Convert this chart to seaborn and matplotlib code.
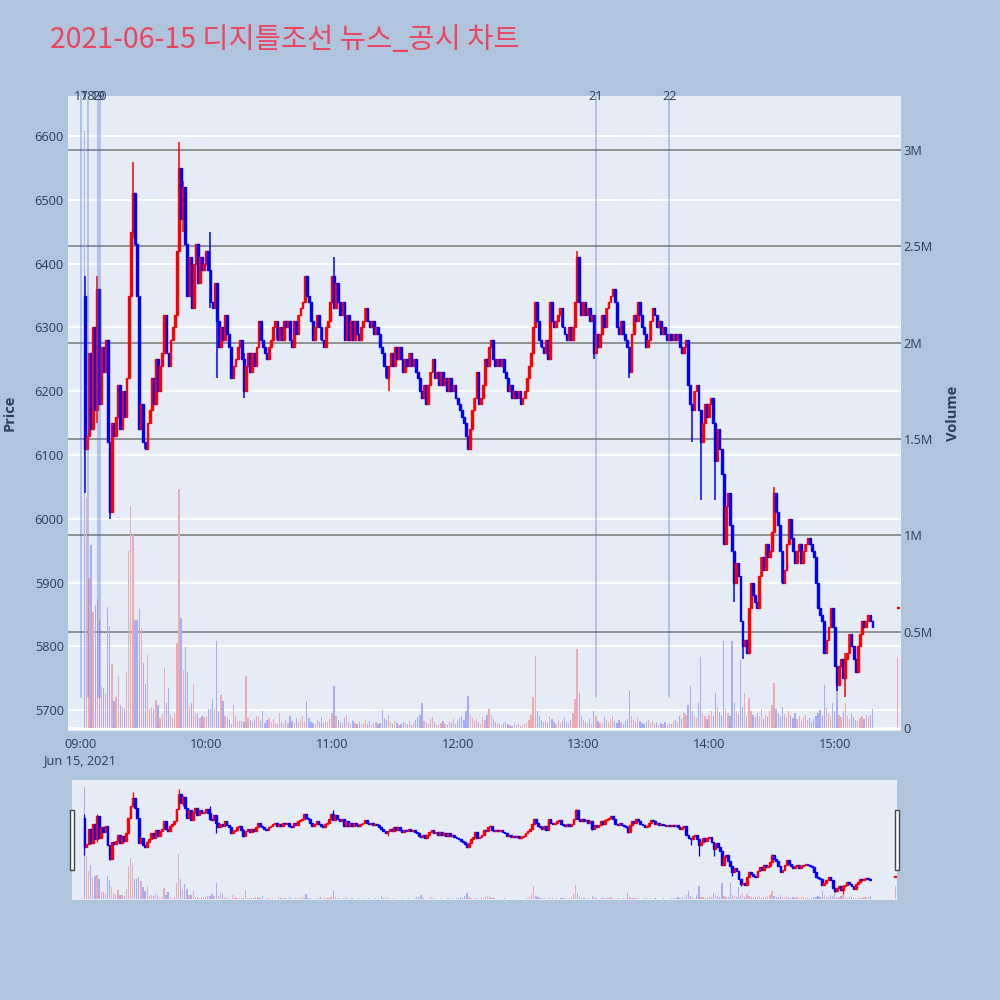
import numpy as np
import pandas as pd
import matplotlib
matplotlib.use("Agg")
import matplotlib.pyplot as plt
import matplotlib.dates as mdates
import matplotlib.transforms as mtransforms
from matplotlib.patches import Rectangle
import seaborn as sns

# ---------------- data ----------------
title_text = "2021-06-15 디지틀조선 뉴스_공시 차트"
session_day = "2021-06-15"
session_start = "2021-06-15 09:02"
first_open = 6350

# 1-minute closes from 09:02 to 15:18
closes = [
    6110, 6130, 6260, 6140, 6300, 6170, 6360, 6180, 6270, 6230,
    6280, 6120, 6010, 6150, 6130, 6160, 6210, 6140, 6200, 6160,
    6220, 6350, 6450, 6510, 6430, 6350, 6140, 6180, 6120, 6110,
    6150, 6170, 6220, 6180, 6250, 6200, 6240, 6260, 6320, 6260,
    6240, 6280, 6300, 6320, 6420, 6550, 6470, 6520, 6430, 6350,
    6410, 6330, 6400, 6430, 6370, 6410, 6390, 6400, 6420, 6390,
    6340, 6330, 6370, 6310, 6270, 6300, 6280, 6320, 6290, 6270,
    6220, 6240, 6250, 6270, 6280, 6250, 6200, 6240, 6260, 6230,
    6260, 6240, 6270, 6310, 6280, 6270, 6260, 6250, 6270, 6280,
    6300, 6310, 6280, 6300, 6280, 6310, 6300, 6310, 6280, 6270,
    6310, 6290, 6320, 6330, 6340, 6380, 6350, 6340, 6310, 6280,
    6300, 6320, 6300, 6280, 6270, 6300, 6310, 6340, 6380, 6330,
    6370, 6340, 6320, 6340, 6280, 6320, 6280, 6310, 6280, 6310,
    6290, 6280, 6300, 6310, 6330, 6310, 6300, 6310, 6290, 6300,
    6290, 6270, 6260, 6240, 6220, 6240, 6260, 6240, 6270, 6250,
    6270, 6250, 6230, 6250, 6240, 6260, 6240, 6250, 6230, 6220,
    6200, 6190, 6210, 6180, 6210, 6230, 6250, 6220, 6230, 6210,
    6230, 6210, 6220, 6200, 6220, 6200, 6210, 6190, 6180, 6170,
    6160, 6150, 6130, 6110, 6140, 6170, 6190, 6230, 6180, 6190,
    6210, 6250, 6240, 6270, 6280, 6250, 6240, 6250, 6240, 6250,
    6230, 6220, 6200, 6210, 6190, 6200, 6190, 6200, 6180, 6190,
    6200, 6220, 6240, 6260, 6300, 6340, 6310, 6280, 6270, 6260,
    6280, 6250, 6340, 6310, 6300, 6310, 6320, 6330, 6300, 6290,
    6280, 6300, 6280, 6300, 6340, 6410, 6340, 6320, 6340, 6320,
    6330, 6310, 6320, 6260, 6290, 6270, 6290, 6320, 6300, 6330,
    6340, 6350, 6360, 6340, 6300, 6290, 6310, 6290, 6280, 6270,
    6230, 6290, 6320, 6310, 6340, 6320, 6300, 6290, 6270, 6280,
    6310, 6330, 6320, 6300, 6310, 6290, 6300, 6290, 6280, 6290,
    6280, 6290, 6280, 6290, 6270, 6260, 6270, 6280, 6210, 6180,
    6170, 6200, 6210, 6170, 6120, 6150, 6180, 6160, 6180, 6190,
    6150, 6090, 6140, 6110, 6070, 5960, 6020, 6040, 5990, 5950,
    5900, 5930, 5910, 5840, 5800, 5810, 5790, 5860, 5900, 5880,
    5870, 5860, 5910, 5940, 5920, 5960, 5940, 5950, 5980, 6040,
    6010, 5990, 5950, 5900, 5920, 5960, 6000, 5970, 5950, 5930,
    5950, 5960, 5930, 5950, 5960, 5970, 5960, 5950, 5940, 5900,
    5860, 5850, 5840, 5790, 5810, 5830, 5860, 5830, 5770, 5740,
    5770, 5780, 5750, 5780, 5790, 5820, 5800, 5780, 5760, 5800,
    5820, 5840, 5830, 5840, 5850, 5840, 5830,
]

# 1-minute volume, thousands of shares
volumes_k = [
    3100, 1200, 780, 950, 600, 640, 670, 560, 220, 210,
    180, 630, 530, 330, 140, 160, 270, 120, 110, 100,
    290, 920, 1150, 1000, 560, 560, 620, 520, 340, 230,
    380, 100, 110, 100, 145, 120, 50, 75, 310, 130,
    210, 70, 50, 80, 440, 1240, 570, 300, 420, 290,
    110, 130, 230, 80, 80, 50, 60, 55, 60, 100,
    100, 150, 100, 450, 90, 170, 140, 60, 50, 40,
    20, 120, 60, 35, 35, 35, 30, 270, 50, 40,
    30, 45, 60, 55, 35, 90, 25, 40, 50, 30,
    45, 25, 20, 80, 30, 20, 40, 25, 60, 35,
    25, 50, 30, 45, 60, 35, 140, 50, 30, 25,
    20, 40, 30, 55, 25, 35, 30, 45, 80, 220,
    60, 40, 30, 25, 50, 65, 30, 20, 35, 25,
    20, 30, 15, 25, 40, 20, 35, 15, 25, 30,
    20, 25, 95, 50, 40, 65, 30, 20, 35, 25,
    15, 20, 30, 25, 20, 35, 15, 25, 40, 55,
    70, 130, 35, 25, 20, 45, 55, 30, 20, 15,
    25, 35, 20, 15, 30, 25, 45, 20, 35, 50,
    60, 40, 90, 165, 70, 50, 35, 45, 30, 20,
    55, 40, 65, 100, 70, 45, 30, 25, 20, 15,
    25, 30, 20, 15, 10, 25, 15, 20, 10, 15,
    20, 25, 40, 70, 160, 375, 90, 60, 40, 30,
    35, 25, 60, 45, 30, 20, 40, 25, 35, 50,
    30, 25, 40, 80, 150, 410, 180, 60, 40, 30,
    25, 45, 20, 90, 60, 35, 25, 30, 55, 40,
    30, 45, 60, 35, 25, 40, 30, 20, 35, 45,
    190, 60, 40, 30, 55, 35, 25, 20, 30, 40,
    25, 35, 20, 30, 15, 25, 20, 30, 15, 25,
    20, 35, 40, 30, 60, 45, 80, 70, 120, 220,
    90, 60, 50, 130, 370, 80, 60, 45, 70, 90,
    60, 180, 110, 85, 70, 450, 100, 80, 60, 450,
    130, 90, 75, 355, 110, 180, 60, 155, 90, 70,
    55, 80, 60, 100, 45, 70, 55, 90, 120, 235,
    100, 80, 60, 110, 75, 55, 90, 65, 50, 80,
    45, 60, 35, 55, 70, 40, 50, 30, 45, 60,
    80, 95, 70, 225, 110, 80, 60, 130, 90, 230,
    70, 55, 90, 130, 60, 45, 80, 55, 40, 35,
    50, 60, 45, 70, 55, 65, 100,
]

# candles whose wicks reach beyond the body (minutes after 09:00)
wick_minutes = [2, 8, 14, 25, 47, 49, 62, 65, 78, 121, 147, 237, 245, 262,
                292, 296, 303, 312, 316, 331, 361, 365]
wick_highs = [6380, 6380, 6030, 6560, 6590, 6530, 6450, 6370, 6260, 6410, 6240,
              6420, 6320, 6270, 6180, 6170, 6150, 5950, 5840, 6050, 5770, 5790]
wick_lows = [6040, 6150, 6000, 6440, 6420, 6450, 6330, 6220, 6190, 6330, 6200,
             6340, 6250, 6220, 6120, 6030, 6030, 5870, 5780, 5980, 5730, 5720]

# closing auction
auction_time = "2021-06-15 15:30"
auction_price = 5860
auction_volume_k = 370

# news markers
news_times = ["2021-06-15 09:00:25", "2021-06-15 09:03:40",
              "2021-06-15 09:08:30", "2021-06-15 09:09:20",
              "2021-06-15 13:06", "2021-06-15 13:41"]
news_labels = ["17", "18", "19", "20", "21", "22"]

price_ticks = [5700, 5800, 5900, 6000, 6100, 6200, 6300, 6400, 6500, 6600]
volume_ticks = [0, 500000, 1000000, 1500000, 2000000, 2500000, 3000000]
volume_tick_labels = ["0", "0.5M", "1M", "1.5M", "2M", "2.5M", "3M"]
time_ticks = ["09:00", "10:00", "11:00", "12:00", "13:00", "14:00", "15:00"]
date_label = "Jun 15, 2021"

# ---------------- style ----------------
PAPER = "#B0C4DE"
PLOT_BG = "#E5ECF6"
RED = "#FF0000"
BLUE = "#0000FF"
VOL_RED = "#EFA9B0"
VOL_BLUE = "#A7ACF6"
TEXT = "#2A3F5F"

sns.set_theme(style="white")
plt.rcParams["font.family"] = ["Open Sans", "DejaVu Sans"]

day0 = pd.Timestamp(session_day + " 09:00")
times = pd.date_range(session_start, periods=len(closes), freq="min")
minutes = ((times - day0) / pd.Timedelta(minutes=1)).astype(int).to_numpy()

c = np.array(closes, dtype=float)
o = np.r_[first_open, c[:-1]]
h = np.maximum(o, c)
l = np.minimum(o, c)
for mm, hi, lo in zip(wick_minutes, wick_highs, wick_lows):
    idx = np.where(minutes == mm)[0]
    if len(idx):
        i = idx[0]
        h[i] = max(h[i], hi)
        l[i] = min(l[i], lo)
v = np.array(volumes_k, dtype=float) * 1000

# append auction candle
t_auc = pd.Timestamp(auction_time)
x = np.r_[mdates.date2num(times.to_pydatetime()), mdates.date2num(t_auc.to_pydatetime())]
o = np.r_[o, auction_price]
c = np.r_[c, auction_price]
h = np.r_[h, auction_price]
l = np.r_[l, auction_price]
v = np.r_[v, auction_volume_k * 1000]

MIN = 1.0 / 1440.0
base = mdates.date2num(day0.to_pydatetime())


def draw_candles(axp, axv, body_w, bar_w, wick_lw, edge_lw, min_h):
    up = c >= o
    cols = np.where(up, RED, BLUE)
    vcols = np.where(up, VOL_RED, VOL_BLUE)
    axv.bar(x, v, width=bar_w * MIN, color=vcols, linewidth=0, zorder=2)
    axp.vlines(x, l, h, colors=cols, linewidth=wick_lw, zorder=3)
    bottoms = np.minimum(o, c)
    heights = np.maximum(np.abs(c - o), min_h)
    axp.bar(x, heights, bottom=bottoms, width=body_w * MIN, color=cols,
            edgecolor=cols, linewidth=edge_lw, zorder=4)


fig = plt.figure(figsize=(10, 10), dpi=100)
fig.patch.set_facecolor(PAPER)

# ---------------- main chart ----------------
ax_vol = fig.add_axes([0.068, 0.269, 0.833, 0.635])
ax_price = ax_vol.twinx()
ax_vol.set_facecolor(PLOT_BG)
ax_price.patch.set_visible(False)

PRICE_LIM = (5667.4, 6662.7)
VOL_LIM = (-15600, 3281000)
XLIM = (base - 5.97 * MIN, base + 391.6 * MIN)

draw_candles(ax_price, ax_vol, body_w=0.85, bar_w=0.6, wick_lw=1.1, edge_lw=1.0, min_h=2.5)

ax_vol.set_xlim(*XLIM)
ax_vol.set_ylim(*VOL_LIM)
ax_price.set_ylim(*PRICE_LIM)

# grids: white price grid, grey volume grid, white zero line
blend_p = mtransforms.blended_transform_factory(ax_vol.transAxes, ax_price.transData)
for p in price_ticks:
    ax_vol.plot([0, 1], [p, p], transform=blend_p, color="white", lw=1.3, zorder=0.6)
for vt in volume_ticks[1:]:
    ax_vol.axhline(vt, color="#8A8A8A", lw=1.3, zorder=0.8)
ax_vol.axhline(0, color="white", lw=2.0, zorder=0.7)

ax_vol.yaxis.set_ticks_position("right")
ax_vol.set_yticks(volume_ticks)
ax_vol.set_yticklabels(volume_tick_labels)
ax_price.yaxis.set_ticks_position("left")
ax_price.set_yticks(price_ticks)
ax_price.set_yticklabels([str(p) for p in price_ticks])

tick_x = [mdates.date2num(pd.Timestamp(session_day + " " + t).to_pydatetime()) for t in time_ticks]
ax_vol.set_xticks(tick_x)
ax_vol.set_xticklabels([time_ticks[0] + "\n" + date_label] + time_ticks[1:], linespacing=1.3)

for a in (ax_vol, ax_price):
    a.grid(False)
    for s in a.spines.values():
        s.set_visible(False)
    a.tick_params(length=0, labelsize=9.2, labelcolor=TEXT)
ax_vol.tick_params(axis="x", pad=5)
ax_vol.tick_params(axis="y", pad=2)
ax_price.tick_params(axis="y", pad=3)

# news vertical lines + labels
blend_x = mtransforms.blended_transform_factory(ax_price.transData, ax_price.transAxes)
for t, lab in zip(news_times, news_labels):
    xn = mdates.date2num(pd.Timestamp(t).to_pydatetime())
    ax_price.axvline(xn, ymin=0.053, ymax=1.0, color="#4169E1", alpha=0.42, lw=1.1, zorder=5)
    ax_price.text(xn, 0.9985, lab, transform=blend_x, ha="center", va="center",
                  fontsize=9.2, color=TEXT, zorder=6, clip_on=False)

# axis titles
fig.text(0.010, 0.587, "Price", rotation=90, ha="center", va="center",
         fontsize=10.5, fontweight="bold", color=TEXT)
fig.text(0.953, 0.587, "Volume", rotation=90, ha="center", va="center",
         fontsize=10.5, fontweight="bold", color=TEXT)

# title
fig.text(0.050, 0.960, title_text, ha="left", va="center", fontsize=20.5,
         color="#E8475F", family=["Noto Sans CJK KR", "DejaVu Sans"])

# ---------------- range slider ----------------
ax_sv = fig.add_axes([0.072, 0.100, 0.825, 0.120])
ax_sp = ax_sv.twinx()
ax_sv.set_facecolor(PLOT_BG)
ax_sp.patch.set_visible(False)
draw_candles(ax_sp, ax_sv, body_w=0.85, bar_w=0.6, wick_lw=0.9, edge_lw=1.0, min_h=6)
ax_sv.set_xlim(base - 3.98 * MIN, base + 390.8 * MIN)
ax_sv.set_ylim(*VOL_LIM)
ax_sp.set_ylim(*PRICE_LIM)
for a in (ax_sv, ax_sp):
    a.set_xticks([])
    a.set_yticks([])
    a.grid(False)
    for s in a.spines.values():
        s.set_visible(False)

# slider handles
for hx in (0.0695, 0.8950):
    fig.patches.append(Rectangle((hx, 0.130), 0.0040, 0.060, transform=fig.transFigure,
                                 facecolor="white", edgecolor="#444444", lw=1.0, zorder=10))

fig.savefig("out.png", dpi=100, facecolor=PAPER)
